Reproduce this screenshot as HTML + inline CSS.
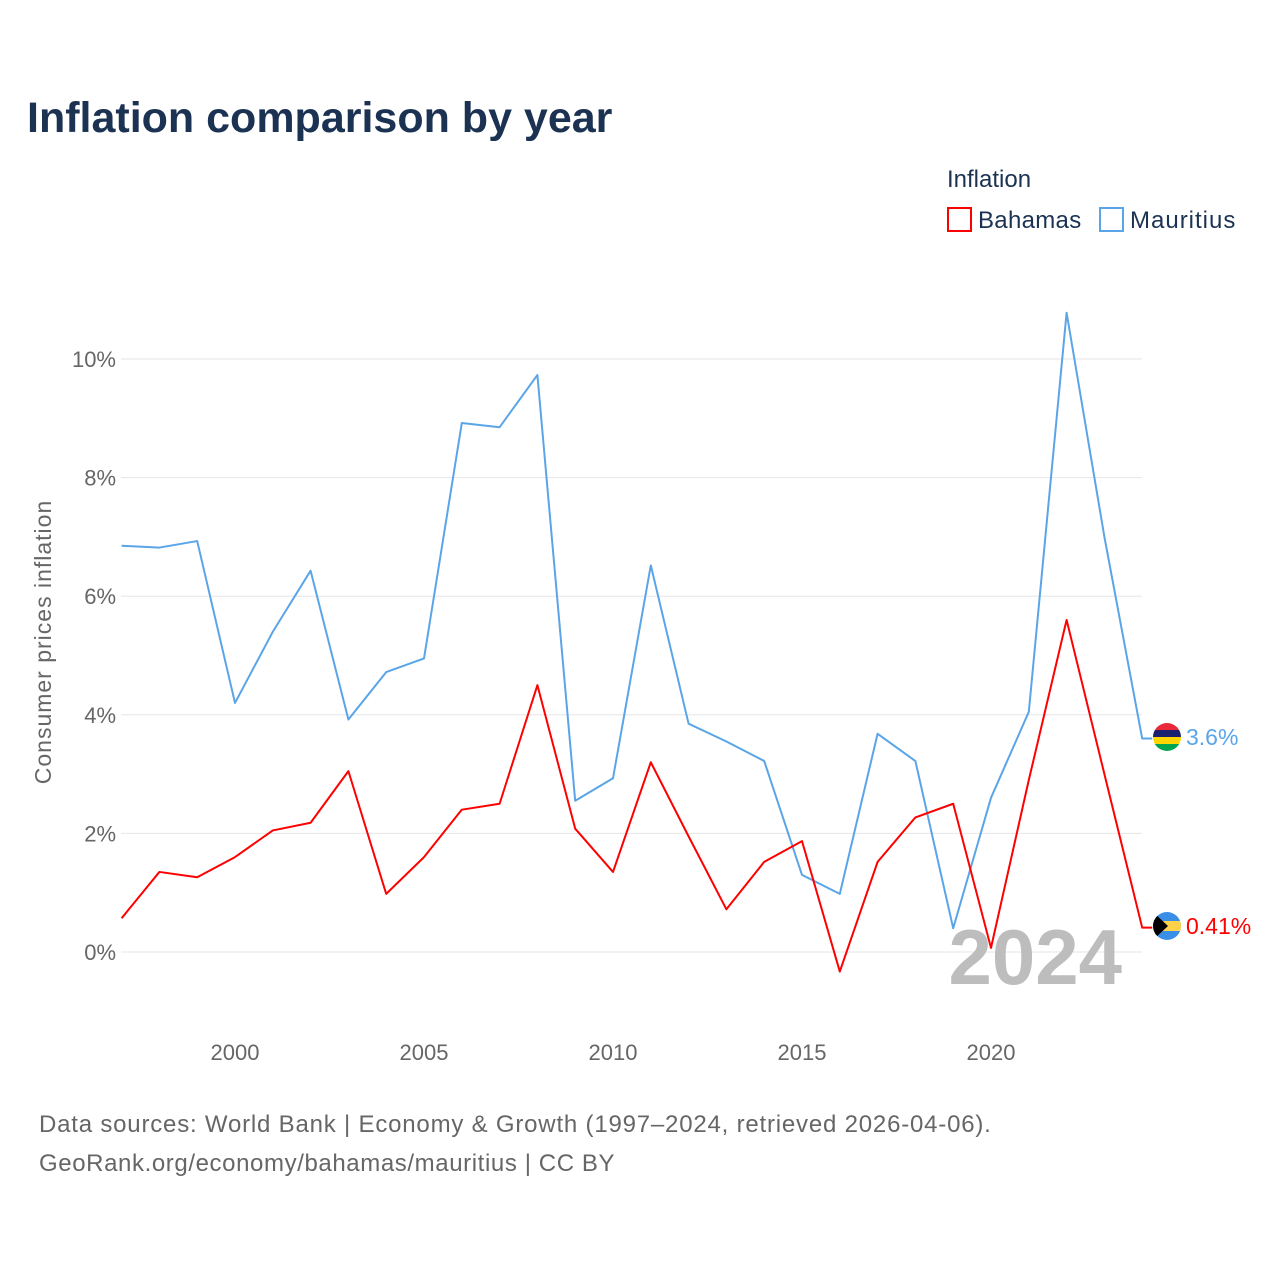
<!DOCTYPE html>
<html><head><meta charset="utf-8"><style>
body{margin:0;background:#fff;font-family:"Liberation Sans",sans-serif}
svg text{font-family:"Liberation Sans",sans-serif}
</style></head><body>
<svg width="1280" height="1280" viewBox="0 0 1280 1280">
<text x="27" y="132" font-size="43" font-weight="bold" fill="#1b3252">Inflation comparison by year</text>
<g>
<text x="947" y="187" font-size="24" fill="#1b3252">Inflation</text>
<g><rect x="948" y="208" width="23" height="23" fill="none" stroke="#f00" stroke-width="2"/><text x="978" y="228" font-size="24" letter-spacing="0.3" fill="#1b3252">Bahamas</text></g>
<g><rect x="1100" y="208" width="23" height="23" fill="none" stroke="#5aa5e8" stroke-width="2"/><text x="1130" y="228" font-size="24" letter-spacing="1" fill="#1b3252">Mauritius</text></g>
</g>
<g id="grid"></g>
<g id="yticks"></g>
<g id="xticks"></g>
<text transform="translate(51,642) rotate(-90)" text-anchor="middle" font-size="23" letter-spacing="1" fill="#666">Consumer prices inflation</text>
<text x="1122" y="984" text-anchor="end" font-size="78" font-weight="bold" fill="#bdbdbd">2024</text>
<g id="series"></g>
<g>
<clipPath id="cm"><circle cx="1167" cy="737" r="14"/></clipPath>
<g clip-path="url(#cm)"><rect x="1153" y="723" width="28" height="7" fill="#ea2839"/><rect x="1153" y="730" width="28" height="7" fill="#1a206d"/><rect x="1153" y="737" width="28" height="7" fill="#ffd500"/><rect x="1153" y="744" width="28" height="7" fill="#00a551"/></g></g>
<g>
<clipPath id="cb"><circle cx="1167" cy="926" r="14"/></clipPath>
<g clip-path="url(#cb)"><rect x="1153" y="912" width="28" height="28" fill="#3a8ee6"/><rect x="1153" y="921" width="28" height="10" fill="#ffd24a"/><polygon points="1153,912 1168,926 1153,940" fill="#000"/></g></g>
<text x="1186" y="745" font-size="23" fill="#5aa5e8">3.6%</text>
<text x="1186" y="934" font-size="23" fill="#f00">0.41%</text>
<text x="39" y="1132" font-size="24" letter-spacing="0.8" fill="#666">Data sources: World Bank | Economy &amp; Growth (1997–2024, retrieved 2026-04-06).</text>
<text x="39" y="1171" font-size="24" letter-spacing="0.6" fill="#666">GeoRank.org/economy/bahamas/mauritius | CC BY</text>
</svg>
<script>
const years=[1997,1998,1999,2000,2001,2002,2003,2004,2005,2006,2007,2008,2009,2010,2011,2012,2013,2014,2015,2016,2017,2018,2019,2020,2021,2022,2023,2024];
const mauritius=[6.85,6.82,6.93,4.2,5.4,6.43,3.92,4.72,4.95,8.92,8.85,9.73,2.55,2.93,6.52,3.85,3.55,3.22,1.3,0.98,3.68,3.22,0.4,2.6,4.05,10.78,7.0,3.6];
const bahamas=[0.57,1.35,1.26,1.6,2.05,2.18,3.05,0.98,1.6,2.4,2.5,4.5,2.08,1.35,3.2,1.95,0.72,1.52,1.87,-0.33,1.52,2.27,2.5,0.07,2.9,5.6,3.0,0.41];
const yTicks=[0,2,4,6,8,10];
const xTicks=[2000,2005,2010,2015,2020];
const NS="http://www.w3.org/2000/svg";
const X=y=>121.6+(y-1997)*37.8;
const Y=v=>952-v*59.3;
function mk(t,a,p){const e=document.createElementNS(NS,t);for(const k in a)e.setAttribute(k,a[k]);p.appendChild(e);return e;}
const g=document.getElementById('grid'),yt=document.getElementById('yticks'),xt=document.getElementById('xticks'),s=document.getElementById('series');
yTicks.forEach(v=>{
const l=mk('line',{x1:121,x2:1142,y1:Y(v),y2:Y(v),stroke:'#e6e6e6','stroke-width':1},g);


const t=mk('text',{x:116,y:Y(v)+8,'text-anchor':'end','font-size':22,fill:'#666'},yt);t.textContent=v+'%';


});
xTicks.forEach(v=>{
const t=mk('text',{x:X(v),y:1060,'text-anchor':'middle','font-size':22,fill:'#666'},xt);t.textContent=v;


});
function line(d,c,n){
const pts=d.map((v,i)=>X(years[i])+','+Y(v));
pts.push((X(years[years.length-1])+10)+','+Y(d[d.length-1]));
const p=mk('polyline',{points:pts.join(' '),fill:'none',stroke:c,'stroke-width':2,'stroke-linejoin':'round'},s);


}
line(mauritius,'#5aa5e8','line-mauritius');
line(bahamas,'#f00','line-bahamas');
</script>
</body></html>
